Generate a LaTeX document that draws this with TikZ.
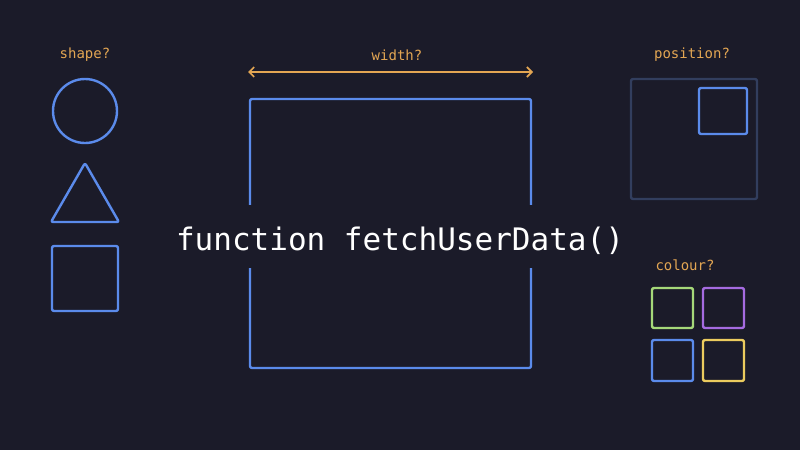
\documentclass[tikz,border=0pt]{standalone}
\usepackage{fontspec}
\setmonofont{DejaVu Sans Mono}
\usetikzlibrary{arrows.meta}
\definecolor{bg}{HTML}{1B1B29}
\definecolor{lblue}{HTML}{5B8BEB}
\definecolor{dimblue}{HTML}{323E5E}
\definecolor{lorange}{HTML}{E3A653}
\definecolor{lgreen}{HTML}{A5D879}
\definecolor{lpurple}{HTML}{A56BE0}
\definecolor{lyellow}{HTML}{EBCB5E}
\begin{document}
\begin{tikzpicture}[x=1pt,y=-1pt,
  lbl/.style={text=lorange,font=\ttfamily\fontsize{14}{16}\selectfont,inner sep=0pt},
  outl/.style={line width=2.4pt,rounded corners=2pt,line join=round},
  code/.style={text=white,font=\ttfamily\fontsize{31}{36}\selectfont,inner sep=0pt}]
\useasboundingbox[fill=bg] (0,0) rectangle (800,450);
% left column
\node[lbl] (shapel) at (85,55) {shape?};
\draw[outl,lblue] (85,111) circle (32);
\draw[outl,lblue] (85,163) -- (119,222) -- (51,222) -- cycle;
\draw[outl,lblue] (52,246) rectangle (118,311);
% centre
\node[lbl] (widthl) at (397,55) {width?};
\coordinate (wl) at (248,72);
\coordinate (wr) at (533,72);
\draw[lorange,line width=1.6pt,{Straight Barb[length=5pt,width=10pt]}-{Straight Barb[length=5pt,width=10pt]}] (wl) -- (wr);
\draw[outl,lblue] (250,99) rectangle (531,368);
\fill[bg] (175,205) rectangle (625,268);
\node[code] (fn) at (400,241) {function fetchUserData()};
% right column
\node[lbl] (posl) at (692,55) {position?};
\draw[outl,dimblue] (631,79) rectangle (757,199);
\draw[outl,lblue] (699,88) rectangle (747,134);
\node[lbl] (coll) at (685,265) {colour?};
\draw[outl,lgreen] (652,288) rectangle (693,328);
\draw[outl,lpurple] (703,288) rectangle (744,328);
\draw[outl,lblue] (652,340) rectangle (693,381);
\draw[outl,lyellow] (703,340) rectangle (744,381);
\end{tikzpicture}
\end{document}
